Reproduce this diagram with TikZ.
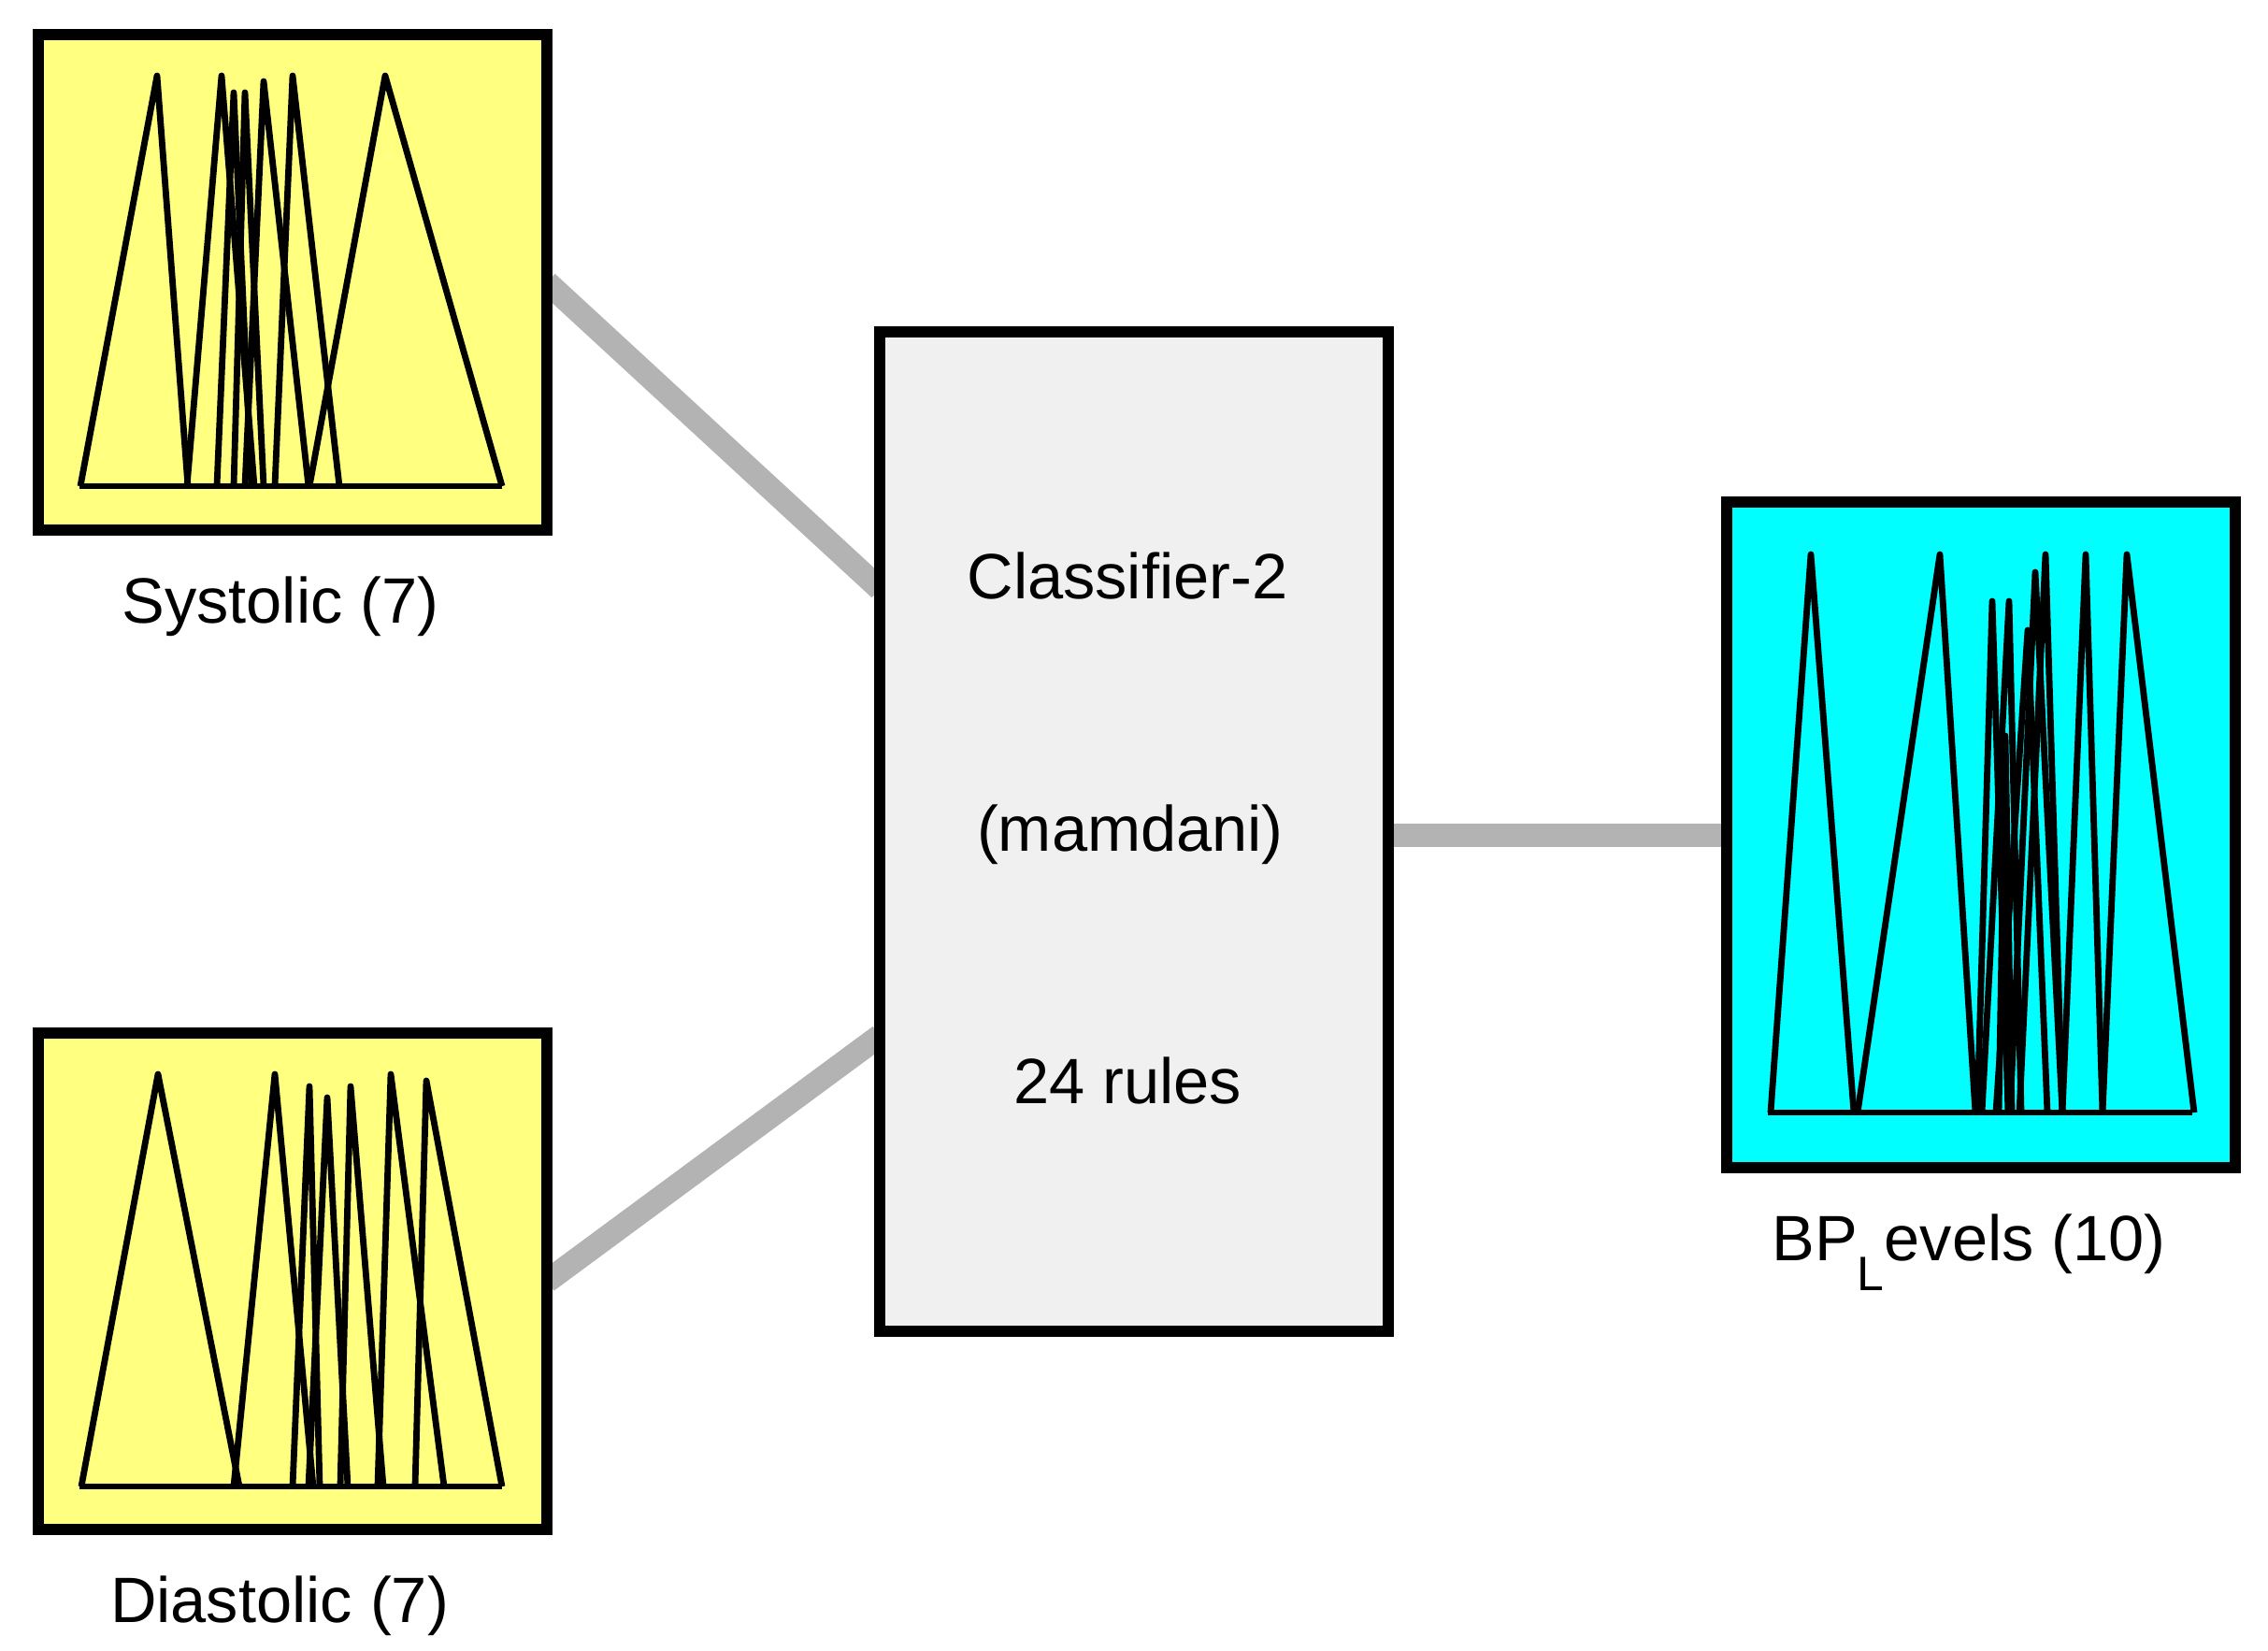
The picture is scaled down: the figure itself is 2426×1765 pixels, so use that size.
\documentclass[tikz,border=0pt]{standalone}
\usepackage{fontspec}
\setmainfont{Liberation Sans}
\usetikzlibrary{backgrounds}

\definecolor{mfyellow}{RGB}{255,255,128}
\definecolor{mfcyan}{RGB}{0,255,255}
\definecolor{rulegray}{RGB}{240,240,240}
\definecolor{linkgray}{RGB}{179,179,179}

\tikzset{
  varbox/.style={draw=black, line width=0.12cm, inner sep=0pt, outer sep=0pt, minimum width=5.44cm},
  mfline/.style={line width=0.068cm, line join=round},
  link/.style={draw=linkgray, line width=0.25cm},
  boxtext/.style={font=\fontsize{19.5}{23}\selectfont, inner sep=0pt, anchor=base}
}

\begin{document}
\begin{tikzpicture}[x=0.01cm, y=-0.01cm]
\useasboundingbox (0,0) rectangle (2426,1765);

\node[varbox, fill=mfyellow, minimum height=5.30cm] (systolic) at (313,302) {};
\node[varbox, fill=mfyellow, minimum height=5.31cm] (diastolic) at (313,1370.5) {};
\node[varbox, fill=rulegray, minimum height=10.69cm] (classifier) at (1213,889.5) {};
\node[varbox, fill=mfcyan, minimum height=7.12cm] (bplevels) at (2119,893) {};

\coordinate (in1) at (941,630);
\coordinate (in2) at (941,1108);

\begin{scope}[on background layer]
  \draw[link] (systolic.east) -- (in1);
  \draw[link] (diastolic.east) -- (in2);
  \draw[link] (classifier.east |- bplevels.west) -- (bplevels.west);
\end{scope}

% membership functions
\foreach \xl/\xp/\yp/\xr in {86/168/81/201, 200/237/81/272, 232/250/99/269, 250/262/99/282,
    262/282/87/330, 294/313/81/363, 331/412/81/537}
  \draw[mfline] (\xl,520) -- (\xp,\yp) -- (\xr,520);
\draw[mfline] (85,520) -- (537,520);

\foreach \xl/\xp/\yp/\xr in {87/169/1149/256, 250/294/1149/335, 313/331/1162/342, 330/350/1174/372,
    364/375/1162/410, 404/418/1149/475, 444/456/1156/537}
  \draw[mfline] (\xl,1590) -- (\xp,\yp) -- (\xr,1590);
\draw[mfline] (85,1590) -- (537,1590);

\foreach \xl/\xp/\yp/\xr in {1894/1937/593/1983, 1987/2075/593/2113, 2115/2131/643/2148,
    2120/2149/643/2162, 2138/2145/787/2152, 2135/2169/674/2190, 2150/2177/612/2206,
    2160/2188/593/2206, 2206/2231/593/2249, 2249/2275/593/2347}
  \draw[mfline] (\xl,1190) -- (\xp,\yp) -- (\xr,1190);
\draw[mfline] (1891,1190) -- (2345,1190);

\node[boxtext] (sys-name) at (300,666) {Systolic (7)};
\node[boxtext] (dia-name) at (299,1735) {Diastolic (7)};
\node[boxtext] (bp-name) at (2106,1348) {BP\raisebox{-0.32cm}{\fontsize{14.7}{15}\selectfont L}evels (10)};
\node[boxtext] (fis-name) at (1206,640) {Classifier-2};
\node[boxtext] (fis-type) at (1209,910) {(mamdani)};
\node[boxtext] (fis-rules) at (1206,1180) {24 rules};
\end{tikzpicture}
\end{document}
